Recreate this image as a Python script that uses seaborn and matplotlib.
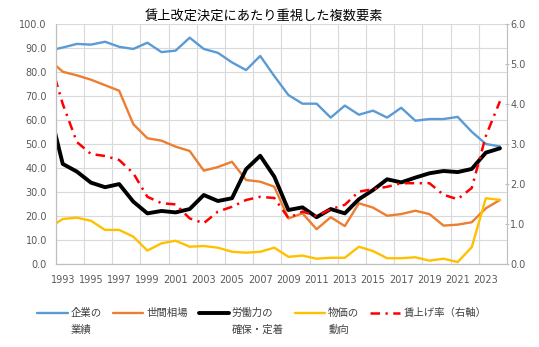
import numpy as np
import pandas as pd
import matplotlib
matplotlib.use("Agg")
import matplotlib.pyplot as plt
import seaborn as sns
from matplotlib.lines import Line2D
from matplotlib.legend_handler import HandlerLine2D
from matplotlib.ticker import FixedLocator

# ---------------- data ----------------
title = "賃上改定決定にあたり重視した複数要素"
years = list(range(1992, 2025))
tick_years = list(range(1993, 2024, 2))

gyoseki = [88.9, 90.2, 91.7, 91.4, 92.6, 90.5, 89.6, 92.2, 88.3, 88.9, 94.3,
           89.6, 88.0, 84.0, 80.8, 86.7, 78.3, 70.4, 66.8, 66.8, 61.0, 66.0,
           62.2, 63.9, 61.0, 65.1, 59.7, 60.4, 60.4, 61.3, 55.1, 50.0, 49.0]
seken = [85.3, 80.1, 78.6, 76.8, 74.5, 72.2, 58.3, 52.4, 51.4, 48.9, 47.1,
         38.9, 40.4, 42.6, 35.0, 34.3, 32.2, 19.0, 21.1, 14.5, 19.5, 15.8,
         25.3, 23.5, 20.1, 20.8, 22.2, 20.8, 16.0, 16.4, 17.4, 23.2, 26.7]
rodoryoku = [65.5, 41.7, 38.5, 33.9, 32.0, 33.3, 26.0, 21.1, 22.1, 21.5, 22.9,
             28.75, 26.25, 27.4, 39.5, 45.1, 36.4, 22.5, 23.6, 19.5, 22.9, 21.1,
             27.0, 30.8, 35.3, 34.0, 36.0, 37.8, 38.75, 38.3, 39.6, 46.4, 48.2]
bukka = [15.0, 18.75, 19.3, 18.0, 14.2, 14.2, 11.4, 5.6, 8.6, 9.7, 7.2,
         7.5, 6.8, 5.1, 4.7, 5.1, 6.8, 3.0, 3.5, 2.2, 2.6, 2.6,
         7.2, 5.4, 2.4, 2.4, 2.8, 1.4, 2.2, 0.8, 7.0, 27.4, 26.7]
chinage = [5.2, 4.0, 3.05, 2.75, 2.7, 2.6, 2.27, 1.68, 1.52, 1.49, 1.14,
           1.02, 1.31, 1.43, 1.6, 1.68, 1.65, 1.15, 1.31, 1.2, 1.37, 1.48,
           1.81, 1.87, 1.93, 2.02, 2.02, 2.02, 1.73, 1.62, 1.9, 3.2, 4.07]

series_labels = ["企業の\n業績", "世間相場\n ", "労働力の\n確保・定着", "物価の\n動向", "賃上げ率（右軸）\n "]
colors = ["#5B9BD5", "#ED7D31", "#000000", "#FFC000", "#FF0000"]

# ---------------- style ----------------
sns.set_style("white")
plt.rcParams['font.family'] = ['Noto Sans CJK JP', 'DejaVu Sans']

W, H = 539, 347
fig = plt.figure(figsize=(W / 100, H / 100), dpi=100)
left_px, right_px, top_px, bot_px = 55.7, 507.0, 24.0, 264.0
ax = fig.add_axes([left_px / W, 1 - bot_px / H, (right_px - left_px) / W, (bot_px - top_px) / H])
ax2 = ax.twinx()

df = pd.DataFrame({"year": years, "a": gyoseki, "b": seken, "c": rodoryoku, "d": bukka, "e": chinage})

lws = [1.7, 1.7, 2.8, 1.7]
for col, c, lw, lab in zip(["a", "b", "c", "d"], colors[:4], lws, series_labels[:4]):
    sns.lineplot(data=df, x="year", y=col, ax=ax, color=c, linewidth=lw, label=lab, legend=False)
sns.lineplot(data=df, x="year", y="e", ax=ax2, color=colors[4], linewidth=1.8,
             label=series_labels[4], legend=False)
for l in ax2.get_lines():
    l.set_linestyle((0, (3.8, 2.2, 0.9, 2.2)))
for a in (ax, ax2):
    if a.get_legend() is not None:
        a.get_legend().remove()

# axes
ax.set_xlim(1992.5, 2024.5)
ax.set_ylim(0, 100)
ax2.set_ylim(0, 6)
ax.set_xlabel("")
ax.set_ylabel("")
ax2.set_ylabel("")

ax.xaxis.set_major_locator(FixedLocator(tick_years))
ax.set_xticklabels([str(y) for y in tick_years])
ax.xaxis.set_minor_locator(FixedLocator(np.arange(1992.5, 2025, 2)))
ax.set_yticks(np.arange(0, 101, 10))
ax.set_yticklabels([f"{v:.1f}" for v in np.arange(0, 101, 10)])
ax2.set_yticks(np.arange(0, 7, 1))
ax2.set_yticklabels([f"{v:.1f}" for v in np.arange(0, 7, 1)])

grid_c = "#D9D9D9"
ax.grid(False)
ax2.grid(False)
ax.grid(axis="y", which="major", color=grid_c, linewidth=0.8)
ax.grid(axis="x", which="minor", color=grid_c, linewidth=0.8)
ax.set_axisbelow(True)

spine_c = "#BFBFBF"
for a in (ax, ax2):
    a.spines["top"].set_visible(False)
    for s in ("left", "bottom", "right"):
        a.spines[s].set_color(spine_c)
        a.spines[s].set_linewidth(0.8)
ax.spines["right"].set_visible(False)

ax.tick_params(axis="x", which="both", length=0, labelsize=7, colors="#595959", pad=8)
ax.tick_params(axis="y", which="both", length=0, labelsize=7, colors="#595959", pad=6.3)
ax2.tick_params(axis="y", direction="inout", length=3, width=0.8, color=spine_c,
                labelsize=7, labelcolor="#595959", pad=0.8)
for t in ax.get_xticklabels() + ax.get_yticklabels() + ax2.get_yticklabels():
    t.set_fontfamily(['DejaVu Sans'])

# title
fig.text(0.49, 1 - 16 / H, title, ha="center", va="center", fontsize=9.5, color="#000000")


# legend: handle aligned with first text line
class TopLineHandler(HandlerLine2D):
    def __init__(self, shift, **kw):
        super().__init__(**kw)
        self.shift = shift

    def create_artists(self, legend, orig_handle, xdescent, ydescent, width, height, fontsize, trans):
        arts = super().create_artists(legend, orig_handle, xdescent, ydescent, width, height, fontsize, trans)
        for a in arts:
            a.set_ydata(np.asarray(a.get_ydata(), dtype=float) + self.shift)
        return arts


handles = ax.get_lines()[:4] + ax2.get_lines()[:1]
leg = fig.legend(handles, series_labels, loc="upper left",
                 bbox_to_anchor=(28 / W, 1 - 298 / H), ncol=5, frameon=False,
                 fontsize=7.5, handlelength=2.9, handletextpad=0.3, columnspacing=1.05,
                 handler_map={Line2D: TopLineHandler(6.4)})
for t in leg.get_texts():
    t.set_linespacing(1.9)
    t.set_color("#404040")

fig.savefig("out.png", dpi=100, facecolor="white")
